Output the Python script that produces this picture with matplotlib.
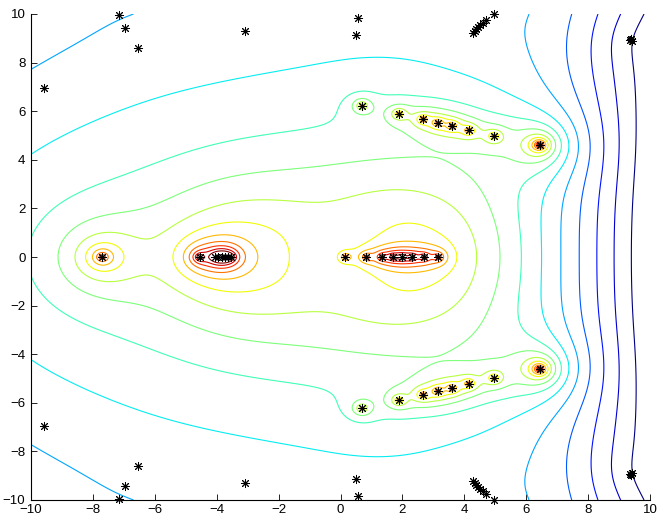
import numpy as np
import matplotlib
matplotlib.use('Agg')
import matplotlib.pyplot as plt

plt.rcParams['font.family'] = ['Liberation Sans', 'DejaVu Sans']

# singular points (upper half plane; the lower half is the mirror image)
POLE_GROUPS = [
    [(-7.7, 0.0)],
    [(-4.55, 0.0)],
    [(-4.05, 0.0), (-3.95, 0.0), (-3.84, 0.0), (-3.74, 0.0), (-3.63, 0.0), (-3.53, 0.0)],
    [(0.16, 0.0)],
    [(0.84, 0.0), (1.35, 0.0), (1.69, 0.0), (1.98, 0.0), (2.30, 0.0), (2.69, 0.0), (3.15, 0.0)],
    [(0.69, 6.23), (1.88, 5.90), (2.66, 5.67), (3.14, 5.52), (3.60, 5.40), (4.14, 5.21), (4.96, 4.98)],
    [(6.43, 4.61)],
]
# weights of each pole group, for kernel radii 0.8 / 2.5 / 5.0
POLE_WEIGHTS = [
    [-0.7746, 1.7954, 0.6330],
    [0.6038, 10.4805, -9.3017],
    [1.0581, -2.6748, 2.4134],
    [4.3080, -1.6408, -1.1197],
    [2.5872, -3.4356, 2.3839],
    [2.0685, -0.6570, 0.2420],
    [0.4807, 3.2968, -0.8932],
]
RADII = [0.8, 2.5, 5.0]

# the other points (drawn, with a soft influence on the field)
DIP_CENTERS = [(4.5, 9.5), (9.4, 8.9), (-7.0, 9.4)]
DIP_WEIGHTS = [-0.4632, -0.6833, 0.0941]

# smooth background terms
BG_WEIGHTS = [1.6793, -1.2368, 1.9534, 1.4291, 1.8501, 1.8392, -0.5348, -0.7321, -0.6411, -1.4658]

OTHER_POINTS = [
    (-9.57, 6.95), (-7.16, 9.94), (-6.97, 9.44), (-6.53, 8.60), (-3.07, 9.28),
    (0.50, 9.15), (0.58, 9.82),
    (4.27, 9.22), (4.33, 9.30), (4.39, 9.38), (4.45, 9.46), (4.52, 9.54), (4.60, 9.63),
    (4.70, 9.74), (4.95, 10.0),
    (9.36, 8.92), (9.40, 8.96), (9.42, 8.90), (9.38, 8.98),
]

LEVELS = np.arange(15)


def mirror(points):
    pts = list(points)
    pts += [(x, -y) for x, y in points if y != 0]
    return np.array(pts)


def field(x, y):
    z = np.zeros_like(x)
    for group, weights in zip(POLE_GROUPS, POLE_WEIGHTS):
        for px, py in mirror(group):
            d2 = (x - px) ** 2 + (y - py) ** 2
            for R, w in zip(RADII, weights):
                z += w * 0.5 * np.log1p(R ** 2 / d2)
    for (cx, cy), w in zip(DIP_CENTERS, DIP_WEIGHTS):
        for px, py in mirror([(cx, cy)]):
            z += w * 0.5 * np.log1p(9.0 / ((x - px) ** 2 + (y - py) ** 2 + 1.0))
    u = x / 10
    v = (y / 10) ** 2
    terms = [np.ones_like(x), u, u ** 2, u ** 3, v, u * v, v ** 2, u ** 2 * v,
             np.logaddexp(0, x - 5), np.logaddexp(0, x - 7.5)]
    for t, w in zip(terms, BG_WEIGHTS):
        z += w * t
    return z


xs = np.linspace(-10, 10, 401)
X, Y = np.meshgrid(xs, xs)
Z = field(X, Y)

fig = plt.figure(figsize=(6.64, 5.21), dpi=100)
ax = fig.add_axes([31 / 664, 21 / 521, 619 / 664, 486 / 521])

ax.contour(X, Y, Z, levels=LEVELS, cmap='jet', vmin=LEVELS[0], vmax=LEVELS[-1], linewidths=0.8)

poles = np.vstack([mirror(g) for g in POLE_GROUPS])
others = mirror(OTHER_POINTS)
allpts = np.vstack([poles, others])
ax.plot(allpts[:, 0], allpts[:, 1], ls='none', color='k', marker=(8, 2, 0),
        ms=6.5, mew=0.7, clip_on=False, zorder=5)

ax.set_xlim(-10, 10)
ax.set_ylim(-10, 10)
ax.set_xticks(np.arange(-10, 11, 2))
ax.set_yticks(np.arange(-10, 11, 2))
ax.spines['top'].set_visible(False)
ax.spines['right'].set_visible(False)
for s in ('left', 'bottom'):
    ax.spines[s].set_linewidth(0.8)
ax.tick_params(direction='in', length=4, width=0.6, labelsize=9.5)
ax.tick_params(axis='x', pad=3)
ax.tick_params(axis='y', pad=4)

fig.savefig('out.png')
